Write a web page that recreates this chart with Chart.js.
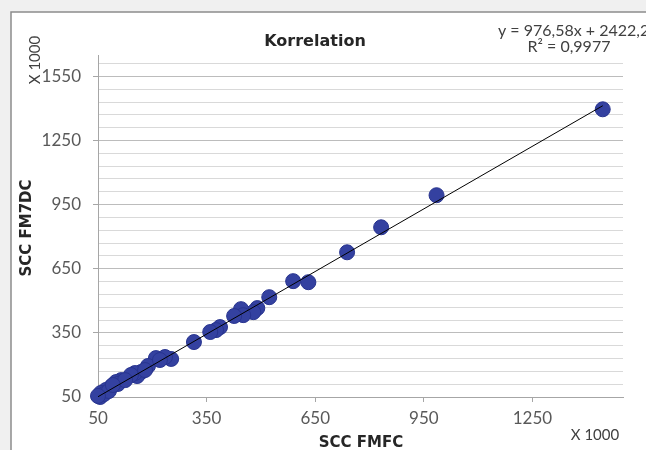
<!DOCTYPE html>
<html>
<head>
<meta charset="utf-8">
<script src="https://cdn.jsdelivr.net/npm/chart.js@4.4.1/dist/chart.umd.min.js"></script>
<style>
  html, body { margin: 0; padding: 0; background: #f0f0f0; }
  #korrelation { display: block; }
</style>
</head>
<body>
<canvas id="korrelation" width="646" height="450"></canvas>
<script>
// SCC FMFC (x) und SCC FM7DC (y), Werte x 1000
const fmfc = [1444, 985, 832, 738, 631, 589, 523, 490, 479, 445, 451, 426, 387, 376, 360,
              315, 252, 235, 210, 188, 169, 158, 152, 141, 114, 100, 86, 72, 58, 56,
              67, 80, 105, 125, 180, 221, 50, 91];
const fm7dc = [1396, 994, 844, 727, 587, 592, 517, 466, 447, 461, 433, 429, 377, 363, 354,
               307, 228, 237, 232, 195, 167, 148, 162, 153, 129, 120, 97, 83, 69, 50,
               64, 78, 111, 129, 176, 223, 55, 106];

const xTicks = [50, 350, 650, 950, 1250];
const yTicks = [50, 350, 650, 950, 1250, 1550];
const yMinorStep = 60;

// Trendlinie aus der Gleichung (in Einheiten x 1000)
const slope = 0.97658;
const intercept = 2.4222;

const points = fmfc.map((x, i) => ({ x: x, y: fm7dc[i] }));
const xLo = Math.min(...fmfc);
const xHi = Math.max(...fmfc);
const trend = [
    { x: xLo, y: slope * xLo + intercept },
    { x: xHi, y: slope * xHi + intercept }
];

const yGrid = [];
for (let v = 50; v < 1650; v += yMinorStep) yGrid.push(v);

const tickFont = { family: 'Lato', size: 17 };

// Hintergrund und Rahmen
const frame = {
    id: 'frame',
    beforeDraw(chart) {
        const c = chart.ctx;
        c.save();
        c.fillStyle = '#f0f0f0';
        c.fillRect(0, 0, chart.width, chart.height);
        c.fillStyle = '#ffffff';
        c.fillRect(11, 12, chart.width, chart.height);
        c.strokeStyle = '#8c8c8c';
        c.lineWidth = 1.5;
        c.beginPath();
        c.moveTo(11, chart.height + 2);
        c.lineTo(11, 12);
        c.lineTo(chart.width + 2, 12);
        c.stroke();
        c.restore();
    }
};

// Titel, Achsentitel, Gleichung
const labels = {
    id: 'labels',
    afterDraw(chart) {
        const c = chart.ctx;
        c.save();
        c.fillStyle = '#262626';
        c.textAlign = 'center';
        c.textBaseline = 'middle';
        c.font = 'bold 16px "DejaVu Sans"';
        c.fillText('Korrelation', 315, 42);

        c.font = 'bold 15px "DejaVu Sans"';
        c.fillText('SCC FMFC', 361, 443);
        c.save();
        c.translate(27, 228);
        c.rotate(-Math.PI / 2);
        c.fillText('SCC FM7DC', 0, 0);
        c.restore();

        c.fillStyle = '#404040';
        c.font = '15px Lato';
        c.fillText('X 1000', 595, 435);
        c.save();
        c.translate(35, 60);
        c.rotate(-Math.PI / 2);
        c.fillText('X 1000', 0, 0);
        c.restore();

        c.font = '16px Lato';
        c.textAlign = 'left';
        c.fillText('y = 976,58x + 2422,2', 498, 31);
        c.textAlign = 'center';
        c.fillText('R\u00b2 = 0,9977', 569, 47);
        c.restore();
    }
};

const ctx = document.getElementById('korrelation').getContext('2d');

const korrChart = new Chart(ctx, {
    type: 'scatter',
    data: {
        datasets: [
            {
                type: 'line',
                label: 'Trend',
                data: trend,
                borderColor: '#000000',
                borderWidth: 1,
                pointRadius: 0,
                fill: false,
                order: 0
            },
            {
                label: 'SCC',
                data: points,
                backgroundColor: '#3441a0',
                borderColor: '#28348f',
                borderWidth: 1,
                pointRadius: 7.5,
                clip: false,
                order: 1
            }
        ]
    },
    options: {
        responsive: false,
        animation: false,
        layout: { padding: { left: 0, top: 55, right: 23, bottom: 0 } },
        plugins: {
            legend: { display: false },
            title: { display: false },
            tooltip: { enabled: false }
        },
        scales: {
            x: {
                type: 'linear',
                min: 50,
                max: 1500,
                afterFit: s => { s.height = 53; },
                afterBuildTicks: s => { s.ticks = xTicks.map(v => ({ value: v })); },
                ticks: {
                    color: '#595959',
                    font: tickFont,
                    padding: 6,
                    maxRotation: 0,
                    callback: v => String(v)
                },
                grid: { drawOnChartArea: false, tickLength: 5, tickColor: '#a6a6a6' },
                border: { color: '#a6a6a6', width: 1 }
            },
            y: {
                type: 'linear',
                min: 50,
                max: 1650,
                afterFit: s => { s.width = 98; },
                afterBuildTicks: s => { s.ticks = yGrid.map(v => ({ value: v })); },
                ticks: {
                    color: '#595959',
                    font: tickFont,
                    padding: 12,
                    autoSkip: false,
                    callback: v => yTicks.includes(v) ? String(v) : ''
                },
                grid: {
                    color: c => yTicks.includes(c.tick.value) ? '#bcbcbc' : '#d9d9d9',
                    lineWidth: 1,
                    tickLength: 5,
                    tickColor: c => yTicks.includes(c.tick.value) ? '#a6a6a6' : 'rgba(0,0,0,0)'
                },
                border: { color: '#a6a6a6', width: 1 }
            }
        }
    },
    plugins: [frame, labels]
});
</script>
</body>
</html>
